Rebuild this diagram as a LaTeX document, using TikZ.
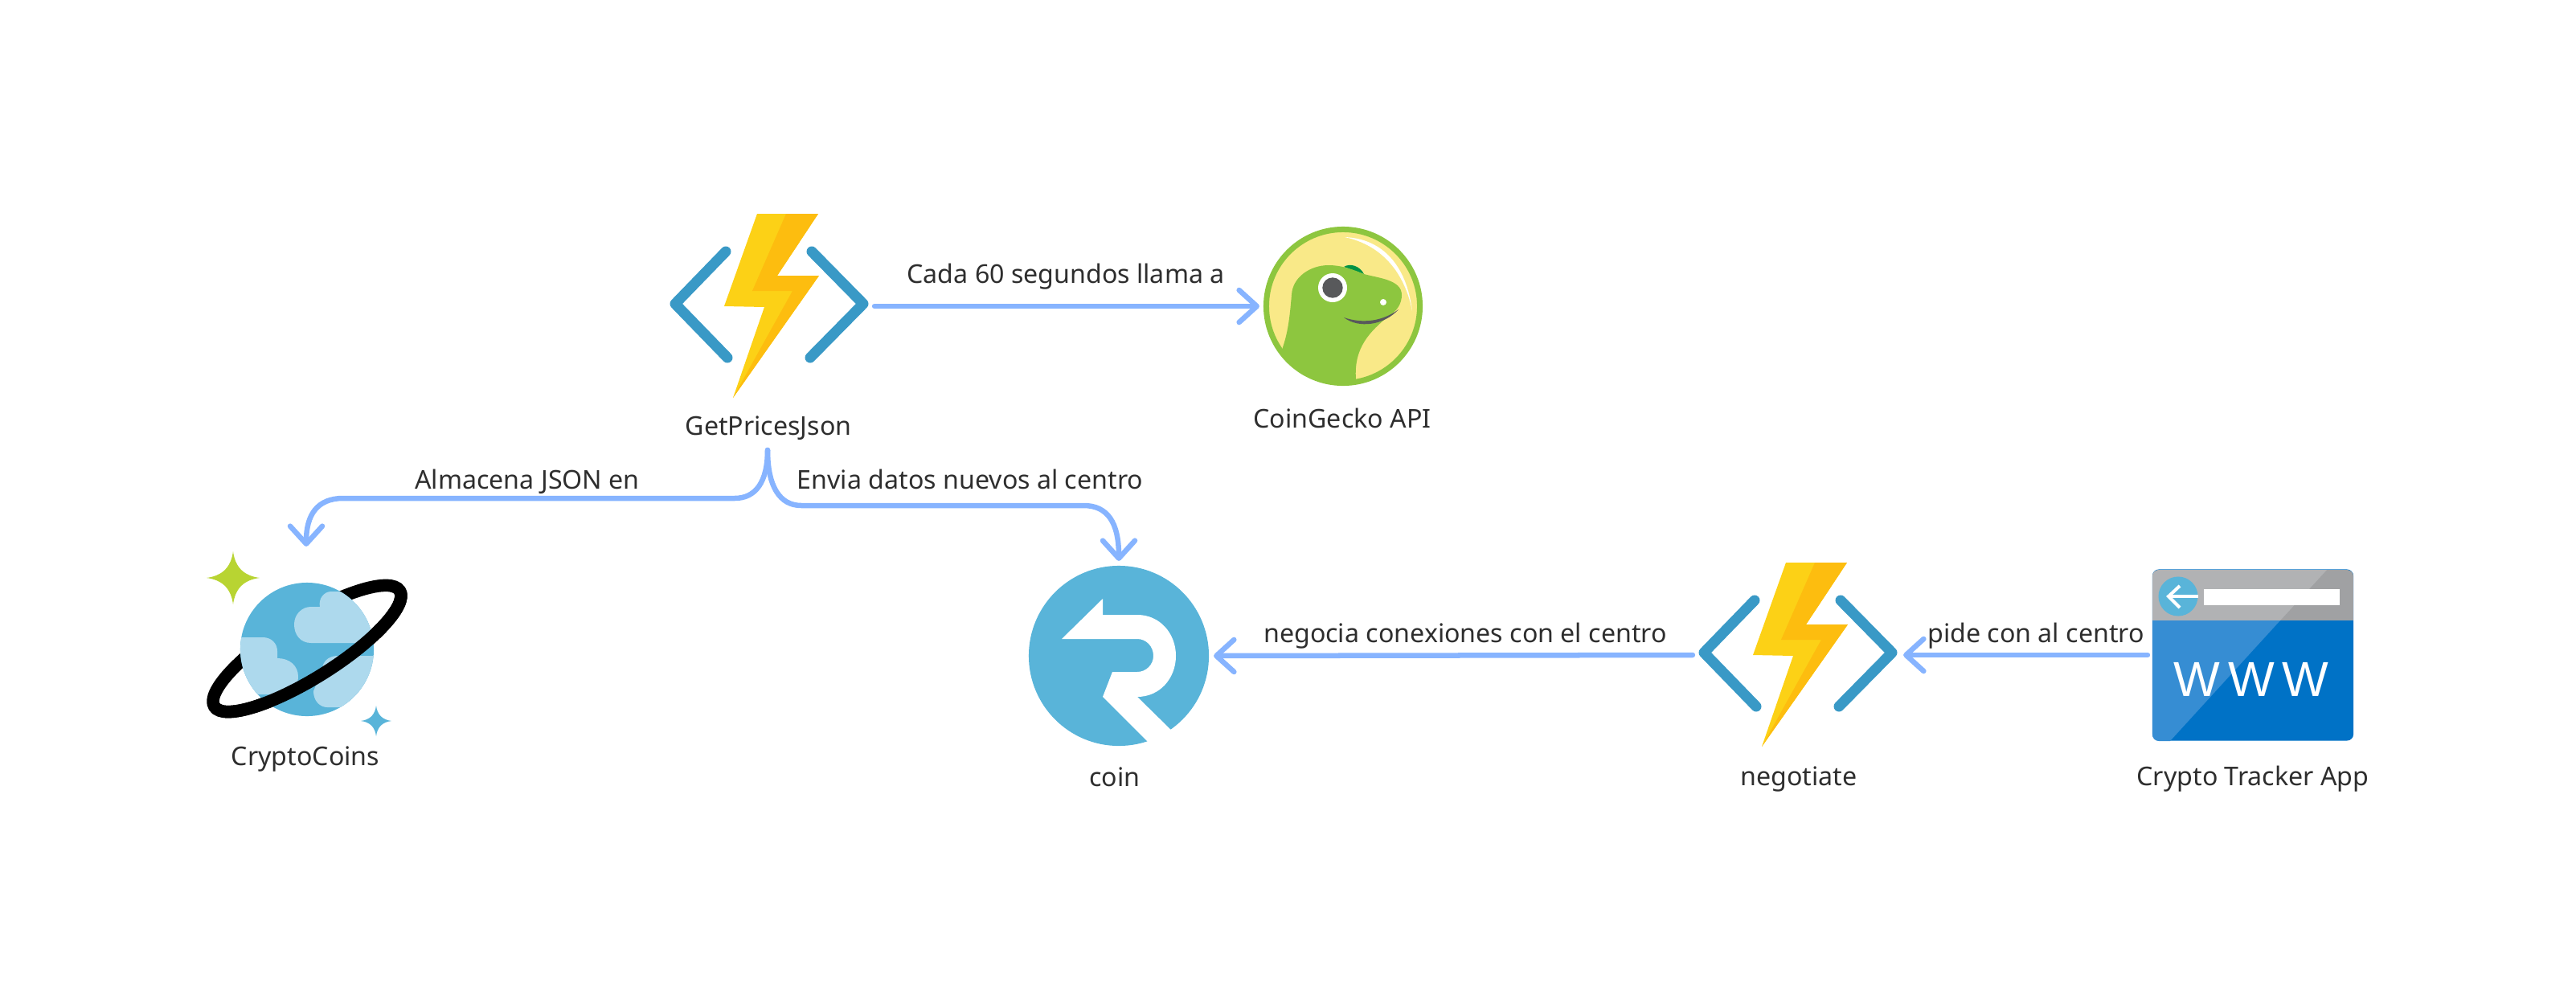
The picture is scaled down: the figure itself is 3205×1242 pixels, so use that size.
\documentclass[tikz,border=0pt]{standalone}
\usepackage{fontspec}
\setmainfont{Noto Sans}
\newfontfamily\wwwfont{Liberation Sans}
\usetikzlibrary{arrows.meta}

\definecolor{linkblue}{HTML}{87B4FF}
\definecolor{textgray}{HTML}{2E2E2E}
\definecolor{azureblue}{HTML}{59B4D9}
\definecolor{chevblue}{HTML}{3999C6}
\definecolor{boltlight}{HTML}{FCD116}
\definecolor{boltdark}{HTML}{FDBD0F}
\definecolor{geckogreen}{HTML}{8DC63F}
\definecolor{geckocrest}{HTML}{009345}
\definecolor{geckoyellow}{HTML}{F9E988}
\definecolor{geckogray}{HTML}{58595B}
\definecolor{cloudblue}{HTML}{ADD9ED}
\definecolor{sparkgreen}{HTML}{B8D432}
\definecolor{appblue}{HTML}{0072C6}
\definecolor{applight}{HTML}{368DD3}
\definecolor{appgray}{HTML}{A0A1A3}
\definecolor{appgraylight}{HTML}{B1B2B4}

\tikzset{
  link/.style={draw=linkblue,line width=0.65mm,line cap=round,
    -{Straight Barb[length=2.2mm,width=4mm,round]}},
  lbl/.style={anchor=base,inner sep=0pt,text=textgray,font=\fontsize{9.15}{11}\selectfont},
  iconbox/.style={inner sep=0pt,outer sep=0pt},
  funcicon/.pic={
    \draw[chevblue,line width=1.3mm,line cap=round,line join=round] (-54,-68) -- (-117,-3) -- (-52,64);
    \draw[chevblue,line width=1.3mm,line cap=round,line join=round] (53,-68) -- (117,-3) -- (51,64);
    \fill[boltlight] (-15,-115) -- (61,-115) -- (10,-38) -- (62,-38) -- (-45,114) -- (-6,1) -- (-56,0) -- cycle;
    \fill[boltdark] (21,-115) -- (61,-115) -- (10,-38) -- (62,-38) -- (-45,114) -- (29,-19) -- (-21,-19) -- cycle;
  },
  sparkle/.pic={
    \path[pic actions] (0,-1) .. controls (0.08,-0.4) and (0.4,-0.08) .. (1,0)
      .. controls (0.4,0.08) and (0.08,0.4) .. (0,1)
      .. controls (-0.08,0.4) and (-0.4,0.08) .. (-1,0)
      .. controls (-0.4,-0.08) and (-0.08,-0.4) .. (0,-1) -- cycle;
  },
}

\begin{document}
\begin{tikzpicture}[x=0.01cm,y=-0.01cm]
\useasboundingbox (0,0) rectangle (3205,1242);

%GetPricesJson
\node[iconbox,minimum width=2.62cm,minimum height=2.3cm] (getprices) at (957,381){};
\pic at (getprices) {funcicon};
\node[lbl] (getpriceslbl) at (956,541){GetPricesJson};
\coordinate (split) at (955,560);

%Negotiate
\node[iconbox,minimum width=2.62cm,minimum height=2.3cm] (negotiate) at (2237,815){};
\pic at (negotiate) {funcicon};
\node[lbl] (negotiatelbl) at (2238,977){negotiate};

%CoinGecko
\node[circle,fill=geckoyellow,inner sep=0pt,minimum size=1.91cm] (geckoback) at (1671,381){};
\begin{scope}
\clip (1671,381) circle[radius=95];
\fill[geckocrest] (1672,332) .. controls (1680,327) and (1692,331) .. (1697,341) -- cycle;
\fill[geckogreen] (1596,432) .. controls (1603,412) and (1605,390) .. (1607,367)
  .. controls (1608,345) and (1630,330) .. (1653,330)
  .. controls (1670,330) and (1685,336) .. (1697,341)
  .. controls (1715,346) and (1744,348) .. (1744,367)
  .. controls (1744,378) and (1738,387) .. (1728,393)
  .. controls (1705,412) and (1684,432) .. (1687,472)
  -- (1671,490) -- (1590,460) -- cycle;
\end{scope}
\fill[white] (1658,358) circle[radius=18];
\fill[geckogray] (1658,358) circle[radius=12.7];
\fill[white] (1721,376) circle[radius=4];
\fill[geckogray] (1672,395) .. controls (1690,409) and (1722,405) .. (1740,385)
  .. controls (1720,400) and (1695,403) .. (1672,395) -- cycle;
\fill[white] (1673,295) .. controls (1720,297) and (1750,330) .. (1757,387)
  .. controls (1748,340) and (1720,305) .. (1673,295) -- cycle;
\node[circle,draw=geckogreen,line width=0.7mm,inner sep=0pt,minimum size=1.91cm,outer sep=0.085cm] (coingecko) at (1671,381){};
\node[lbl] (coingeckolbl) at (1670,532){CoinGecko API};

%CryptoCoins
\node[iconbox,minimum width=2.9cm,minimum height=2.56cm] (cosmos) at (381,808){};
\pic[fill=sparkgreen,scale=33] at (290,719) {sparkle};
\pic[fill=azureblue,scale=19] at (468,897) {sparkle};
\begin{scope}[shift={(382,807)},rotate=32]
\draw[black,line width=1.55mm] (0,0) ellipse[x radius=136,y radius=37];
\end{scope}
\node[circle,fill=azureblue,inner sep=0pt,minimum size=1.66cm] (globe) at (382,808){};
\begin{scope}
\clip (382,808) circle[radius=83];
\fill[cloudblue] (387,800) .. controls (374,800) and (366,790) .. (366,777)
  .. controls (366,765) and (375,755) .. (387,755) -- (398,755)
  .. controls (396,745) and (403,736) .. (412,736) -- (480,736) -- (480,800) -- cycle;
\fill[cloudblue] (290,793) -- (327,793) .. controls (338,793) and (345,801) .. (345,810) -- (345,819)
  .. controls (360,819) and (371,828) .. (371,842) .. controls (371,854) and (363,864) .. (353,864)
  -- (290,864) -- cycle;
\fill[cloudblue] (480,816) -- (420,816) .. controls (408,816) and (401,824) .. (401,833)
  -- (390,860) .. controls (390,872) and (398,880) .. (407,880) -- (480,880) -- cycle;
\end{scope}
\begin{scope}[shift={(382,807)},rotate=32]
\draw[black,line width=1.55mm] (136,0) arc[start angle=0,end angle=180,x radius=136,y radius=37];
\end{scope}
\node[lbl] (cosmoslbl) at (380,952){CryptoCoins};

%Coin
\node[circle,fill=azureblue,inner sep=0pt,minimum size=2.24cm,outer sep=0.06cm] (coin) at (1392,816){};
\fill[white] (1372,745) -- (1321,795) -- (1415,795)
  .. controls (1426,795) and (1435,804) .. (1435,816)
  .. controls (1435,827) and (1426,836) .. (1415,836)
  -- (1384,836) -- (1372,867) -- (1440,935) -- (1470,921) -- (1415,867)
  .. controls (1443,867) and (1463,844) .. (1463,816)
  .. controls (1463,788) and (1443,765) .. (1415,765)
  -- (1372,765) -- cycle;
\node[lbl] (coinlbl) at (1387,978){coin};

%App
\node[rectangle,rounded corners=0.8mm,fill=appblue,inner sep=0pt,minimum width=2.5cm,minimum height=2.13cm,outer sep=0.06cm] (app) at (2803,815){};
\begin{scope}
\clip[rounded corners=0.8mm] (2678,709) rectangle (2928,922);
\fill[appgray] (2678,709) rectangle (2928,772);
\fill[appgraylight] (2678,709) -- (2895,709) -- (2837,772) -- (2678,772) -- cycle;
\fill[applight] (2678,772) -- (2837,772) -- (2700,922) -- (2678,922) -- cycle;
\end{scope}
\node[circle,fill=azureblue,inner sep=0pt,minimum size=0.49cm] (backbtn) at (2710,742){};
\draw[white,line width=0.4mm] (2712,729) -- (2698,742) -- (2712,756);
\draw[white,line width=0.35mm] (2698,742) -- (2735,742);
\node[rectangle,fill=white,inner sep=0pt,minimum width=1.68cm,minimum height=0.2cm] (urlbar) at (2826.5,743){};
\node[anchor=base,inner sep=0pt,text=white,font=\wwwfont\fontsize{17.4}{20}\selectfont] (www) at (2801,866){W\kern1mm W\kern1mm W};
\node[lbl] (applbl) at (2803,977){Crypto Tracker App};

%Connectors
\draw[link] (getprices.east) -- (coingecko.west);
\draw[link] (split) .. controls (955,600) and (940,620) .. (914,620) -- (427,620) .. controls (395,620) and (381,640) .. (cosmos.north);
\draw[link] (split) .. controls (955,605) and (970,629) .. (997,629) -- (1348,629) .. controls (1378,629) and (1392,650) .. (coin.north);
\draw[link] (negotiate.west) -- (coin.east);
\draw[link] (app.west) -- (negotiate.east);

%Labels
\node[lbl] (cadalbl) at (1326,352){Cada 60 segundos llama a};
\node[lbl] (almacenalbl) at (656,608){Almacena JSON en};
\node[lbl] (envialbl) at (1207,608){Envia datos nuevos al centro};
\node[lbl] (negocialbl) at (1823,799){negocia conexiones con el centro};
\node[lbl] (pidelbl) at (2533,799){pide con al centro};

\end{tikzpicture}
\end{document}
